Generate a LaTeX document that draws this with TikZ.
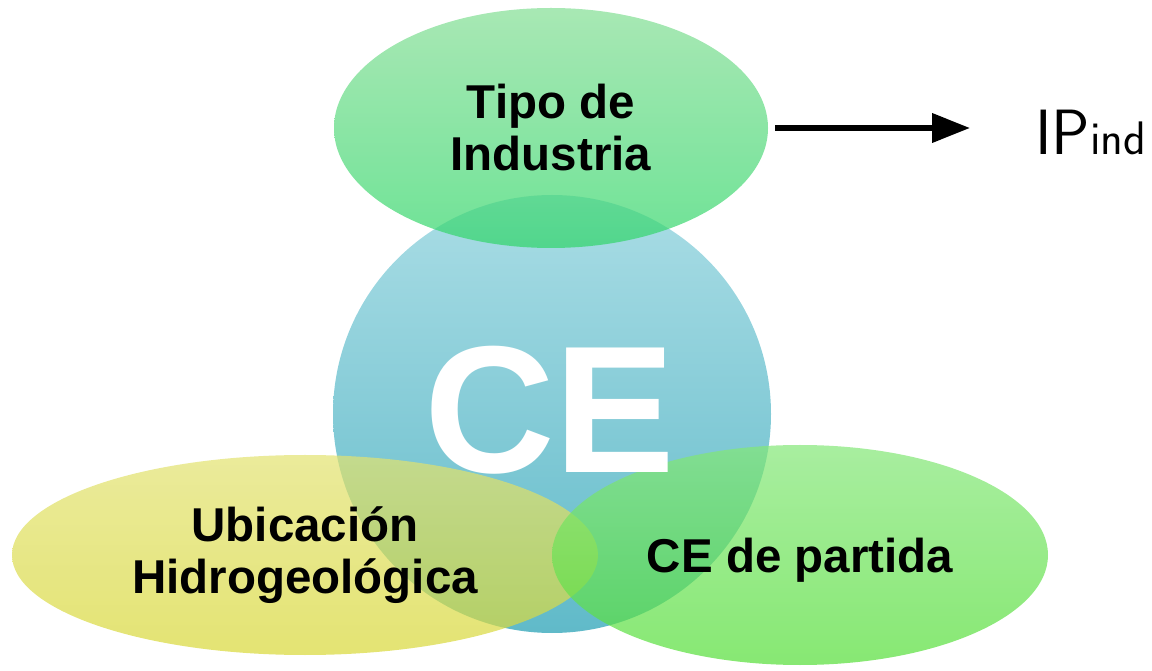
\documentclass[tikz,border=0pt]{standalone}
\usepackage{fontspec}
\setmainfont{Liberation Sans}
\usetikzlibrary{arrows.meta,positioning,shapes.geometric}

\definecolor{circArriba}{RGB}{170,221,229}
\definecolor{circAbajo}{RGB}{96,186,201}
\definecolor{tipoArriba}{RGB}{131,222,148}
\definecolor{tipoAbajo}{RGB}{48,214,105}
\definecolor{ubicArriba}{RGB}{226,226,112}
\definecolor{ubicAbajo}{RGB}{216,216,55}
\definecolor{partArriba}{RGB}{131,231,119}
\definecolor{partAbajo}{RGB}{84,222,55}

\tikzset{
  burbuja/.style={ellipse, draw=none, fill opacity=0.7, text opacity=1,
    align=center, inner sep=0pt, font=\fontsize{47.5}{52}\selectfont\bfseries},
  flecha/.style={line width=6.5pt, -{Triangle[length=38pt,width=28pt]}}
}

\begin{document}
\begin{tikzpicture}[x=1pt,y=1pt]
  \useasboundingbox (0,0) rectangle (1152,670);
  % circulo central
  \node[circle, minimum size=438pt, top color=circArriba, bottom color=circAbajo] (circulo) at (552,256) {};
  % elipses
  \node[burbuja, minimum width=434pt, minimum height=240pt,
        top color=tipoArriba, bottom color=tipoAbajo] (tipo) at (551,542) {Tipo de\\Industria};
  \node[burbuja, minimum width=586pt, minimum height=200pt,
        top color=ubicArriba, bottom color=ubicAbajo] (ubicacion) at (305,115) {Ubicación\\Hidrogeológica};
  \node[burbuja, minimum width=496pt, minimum height=220pt, text depth=0pt,
        top color=partArriba, bottom color=partAbajo] (partida) at (800,115) {CE de partida};
  \node[font=\fontsize{181}{181}\selectfont\bfseries, text=white, inner sep=0pt] (ce) at (550,260) {CE};
  % salida
  \node[font=\sffamily\fontsize{64}{64}\selectfont, inner sep=0pt, right=267pt of tipo.east, yshift=-4pt] (ip) {IP{\fontsize{47}{47}\selectfont ind}};
  \draw[flecha] ([xshift=7pt]tipo.east) -- ([xshift=-65pt,yshift=4pt]ip.west);
\end{tikzpicture}
\end{document}
